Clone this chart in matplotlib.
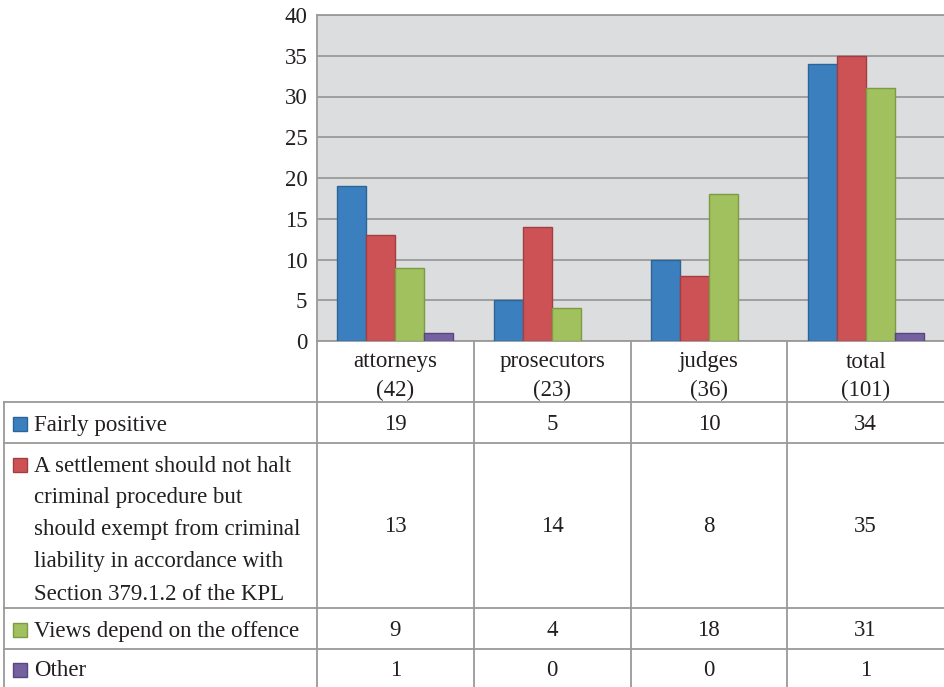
import numpy as np
import matplotlib.pyplot as plt
from matplotlib.patches import Rectangle

# --- Data ---
categories = ['attorneys', 'prosecutors', 'judges', 'total']
counts = ['(42)', '(23)', '(36)', '(101)']
series_names = [
    'Fairly positive',
    'A settlement should not halt\ncriminal procedure but\nshould exempt from criminal\nliability in accordance with\nSection 379.1.2 of the KPL',
    'Views depend on the offence',
    'Other',
]
fairly = [19, 5, 10, 34]
settlement = [13, 14, 8, 35]
views = [9, 4, 18, 31]
other = [1, 0, 0, 1]
series = [fairly, settlement, views, other]

colors = ['#3b7fbf', '#cd5255', '#a1c15f', '#7561a0']
edges = ['#2c6496', '#a33e40', '#7d9a45', '#584683']

plt.rcParams['font.family'] = ['Liberation Serif', 'DejaVu Serif']
txt_col = '#231f20'
grid_col = '#9a9a9a'

W, H = 944, 687
fig = plt.figure(figsize=(W / 100, H / 100), dpi=100)

# chart area in pixel coords
left, right, top, bottom = 317, 944, 15, 341
ax = fig.add_axes([left / W, 1 - bottom / H, (right - left) / W, (bottom - top) / H])
ax.set_facecolor('#dcdddf')

x = np.arange(len(categories))
w = 0.185
for k, vals in enumerate(series):
    lw = [1.0 if v > 0 else 0 for v in vals]
    ax.bar(x + (k - 1.5) * w, vals, width=w, color=colors[k], edgecolor=edges[k],
           linewidth=lw, zorder=3)

ax.set_xlim(-0.5, len(categories) - 0.5)
ax.set_ylim(0, 40)
ax.set_yticks(np.arange(0, 41, 5))
ax.set_xticks([])
ax.yaxis.grid(True, color=grid_col, linewidth=1.3, zorder=0)
ax.tick_params(axis='y', length=0, pad=7, labelsize=16.5, labelcolor=txt_col)
for s in ['left', 'top', 'bottom']:
    ax.spines[s].set_color(grid_col)
    ax.spines[s].set_linewidth(1.3)
ax.spines['right'].set_visible(False)

# --- Table below the chart (pixel coordinates overlay) ---
tab = fig.add_axes([0, 0, 1, 1], zorder=5)
tab.set_xlim(0, W)
tab.set_ylim(H, 0)
tab.axis('off')
tab.patch.set_alpha(0)

col_edges = [left + i * (right - left) / len(categories) for i in range(len(categories) + 1)]
row_lines = [402, 443, 608, 649, 687]
lkw = dict(color=grid_col, linewidth=1.3)

# horizontal lines
for y in row_lines[:-1]:
    tab.plot([4, W], [y, y], **lkw)
# vertical lines
tab.plot([4, 4], [row_lines[0], H], **lkw)
for cx in col_edges[:-1]:
    tab.plot([cx, cx], [bottom, H], **lkw)

fs = 16.5
# header row
for i, (c, n) in enumerate(zip(categories, counts)):
    cx = (col_edges[i] + col_edges[i + 1]) / 2
    tab.text(cx, 362, c, ha='center', va='center', fontsize=fs, color=txt_col)
    tab.text(cx, 390, n, ha='center', va='center', fontsize=fs, color=txt_col)

# data rows
row_centers = [425, 527, 631, 671]
for r, (name, vals) in enumerate(zip(series_names, series)):
    lines = name.split('\n')
    if len(lines) == 1:
        ys = [row_centers[r]]
    else:
        ys = [466 + 32 * j for j in range(len(lines))]
    tab.add_patch(Rectangle((13, ys[0] - 8), 14, 14, facecolor=colors[r],
                            edgecolor=edges[r], linewidth=1.0))
    for j, (ln, yy) in enumerate(zip(lines, ys)):
        tab.text(34, yy, ln, ha='left', va='center', fontsize=fs, color=txt_col)
    for i, v in enumerate(vals):
        cx = (col_edges[i] + col_edges[i + 1]) / 2
        tab.text(cx, row_centers[r], str(v), ha='center', va='center',
                 fontsize=fs, color=txt_col)

fig.savefig('out.png', dpi=100)
